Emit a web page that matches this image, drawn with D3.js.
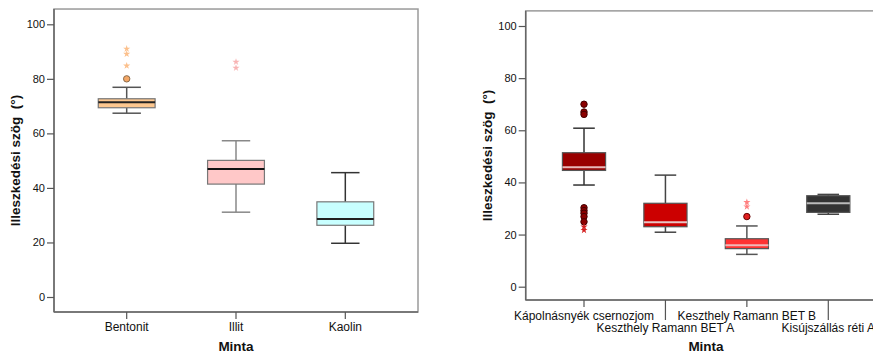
<!DOCTYPE html>
<html><head><meta charset="utf-8">
<script src="https://cdn.jsdelivr.net/npm/d3@7"></script>
<style>body{margin:0;background:#fff}svg{display:block}text{font-family:"Liberation Sans",Arial,sans-serif}</style>
</head><body><svg id="c" width="873" height="354"></svg>
<script>
// ---- Left panel data ----
const leftCategories = ["Bentonit", "Illit", "Kaolin"];
const leftWhiskerLow = [67.4, 31.1, 19.7];
const leftQ1 = [69.4, 41.4, 26.3];
const leftMedian = [71.4, 46.9, 28.6];
const leftQ3 = [72.7, 50.1, 34.9];
const leftWhiskerHigh = [76.9, 57.3, 45.6];
const leftOutliers = [[80.0], [], []];
const leftExtremes = [[91.0, 89.1, 84.8], [86.2, 84.0], []];
const leftFill = ["#fdc78f", "#ffc8c8", "#c8ffff"];
const leftYTicks = [0, 20, 40, 60, 80, 100];

// ---- Right panel data ----
const rightCategories = ["Kápolnásnyék csernozjom", "Keszthely Ramann BET A", "Keszthely Ramann BET B", "Kisújszállás réti A"];
const rightWhiskerLow = [39.0, 20.9, 12.4, 27.8];
const rightQ1 = [44.6, 23.0, 14.6, 28.5];
const rightMedian = [45.8, 24.7, 15.9, 32.0];
const rightQ3 = [51.4, 32.0, 18.4, 34.9];
const rightWhiskerHigh = [60.8, 42.8, 23.3, 35.4];
const rightOutliers = [[70.0, 67.0, 66.1, 30.3, 29.2, 28.2, 26.9, 24.9], [], [26.9], []];
const rightExtremes = [[23.0, 21.7], [], [32.4, 30.7], []];
const rightFill = ["#990000", "#cc0000", "#ff3333", "#333333"];
const rightYTicks = [0, 20, 40, 60, 80, 100];

const svg = d3.select("#c");

function panel(cfg) {
  const g = svg.append("g");
  const y = d3.scaleLinear().domain([0, 100]).range([cfg.y0, cfg.y100]);
  const x = d3.scalePoint().domain(cfg.cats).range([cfg.left, cfg.right]).padding(cfg.pad);
  const step = x.step();
  const bw = step * cfg.boxFrac;
  const top = y(cfg.ymax), bot = y(cfg.ymin);

  // frame
  g.append("rect").attr("x", cfg.left).attr("y", top).attr("width", cfg.right - cfg.left).attr("height", bot - top)
    .attr("fill", "none").attr("stroke", "#9a9a9a").attr("stroke-width", 1.5);
  g.append("line").attr("x1", cfg.left).attr("x2", cfg.left).attr("y1", top).attr("y2", bot).attr("stroke", "#666").attr("stroke-width", 1.5);
  g.append("line").attr("x1", cfg.left).attr("x2", cfg.right).attr("y1", bot).attr("y2", bot).attr("stroke", "#666").attr("stroke-width", 1.5);

  // y axis
  const ya = d3.axisLeft(y).tickValues(cfg.yticks).tickSize(7).tickPadding(2).tickFormat(d3.format("d"));
  const yg = g.append("g").attr("transform", `translate(${cfg.left},0)`).call(ya);
  yg.select(".domain").remove();
  yg.selectAll(".tick line").attr("stroke", "#555").attr("stroke-width", 1.2);
  yg.selectAll(".tick text").attr("font-size", 11).attr("fill", "#111").attr("font-family", "Liberation Sans, Arial, sans-serif");

  // x axis
  const xa = d3.axisBottom(x).tickSize(0).tickFormat("");
  const xg = g.append("g").attr("transform", `translate(0,${bot})`).call(xa);
  xg.select(".domain").remove();
  cfg.cats.forEach((c, i) => {
    const long = cfg.stagger && i % 2 === 1;
    g.append("line").attr("x1", x(c)).attr("x2", x(c)).attr("y1", bot).attr("y2", bot + (long ? 20 : 7))
      .attr("stroke", "#555").attr("stroke-width", 1.2);
    const ty = cfg.stagger ? (i % 2 === 0 ? cfg.labelY1 : cfg.labelY2) : cfg.labelY1;
    g.append("text").attr("x", x(c)).attr("y", ty).attr("text-anchor", "middle").attr("font-size", 12).attr("fill", "#111").text(c);
  });

  // titles
  g.append("text").attr("x", cfg.xTitleX).attr("y", cfg.xTitleY).attr("text-anchor", "middle")
    .attr("font-size", 13.5).attr("font-weight", "bold").attr("fill", "#111").text("Minta");
  g.append("text").attr("transform", `translate(${cfg.yTitleX},${(top + bot) / 2}) rotate(-90)`).attr("text-anchor", "middle")
    .attr("font-size", 13.5).attr("font-weight", "bold").attr("fill", "#111").attr("xml:space", "preserve")
    .style("white-space", "pre").text("Illeszkedési szög  (°)");

  // boxes
  cfg.cats.forEach((c, i) => {
    const cx = x(c);
    const wc = cfg.whiskerColor[i];
    g.append("line").attr("x1", cx).attr("x2", cx).attr("y1", y(cfg.wh[i])).attr("y2", y(cfg.q3[i])).attr("stroke", wc).attr("stroke-width", 1.5);
    g.append("line").attr("x1", cx).attr("x2", cx).attr("y1", y(cfg.q1[i])).attr("y2", y(cfg.wl[i])).attr("stroke", wc).attr("stroke-width", 1.5);
    [cfg.wh[i], cfg.wl[i]].forEach(v => {
      g.append("line").attr("x1", cx - bw / 4).attr("x2", cx + bw / 4).attr("y1", y(v)).attr("y2", y(v)).attr("stroke", wc).attr("stroke-width", 1.5);
    });
    g.append("rect").attr("x", cx - bw / 2).attr("y", y(cfg.q3[i])).attr("width", bw).attr("height", y(cfg.q1[i]) - y(cfg.q3[i]))
      .attr("fill", cfg.fill[i]).attr("stroke", cfg.boxStroke).attr("stroke-width", 1.2);
    g.append("line").attr("x1", cx - bw / 2).attr("x2", cx + bw / 2).attr("y1", y(cfg.med[i])).attr("y2", y(cfg.med[i]))
      .attr("stroke", cfg.medColor[i]).attr("stroke-width", 2);
    cfg.out[i].forEach(v => {
      g.append("circle").attr("cx", cx).attr("cy", y(v)).attr("r", 3.2).attr("fill", cfg.outFill[i]).attr("stroke", cfg.outStroke[i]).attr("stroke-width", 1);
    });
    cfg.ext[i].forEach(v => {
      g.append("path").attr("d", d3.symbol(d3.symbolStar, 16)()).attr("transform", `translate(${cx},${y(v)})`).attr("fill", cfg.extColor[i]);
    });
  });
}

panel({
  cats: leftCategories, wl: leftWhiskerLow, q1: leftQ1, med: leftMedian, q3: leftQ3, wh: leftWhiskerHigh,
  out: leftOutliers, ext: leftExtremes, fill: leftFill, yticks: leftYTicks,
  left: 54, right: 418, y0: 297, y100: 24.3, ymin: -5.5, ymax: 105.6, pad: 0.665, boxFrac: 0.52,
  stagger: false, labelY1: 331, xTitleX: 236, xTitleY: 351, yTitleX: 20,
  boxStroke: "#777", whiskerColor: ["#555", "#888", "#333"], medColor: ["#222", "#111", "#222"],
  outFill: ["#f4a766", "", ""], outStroke: ["#8a6a4a", "", ""], extColor: ["#fcc08c", "#f8b4b4", "#ccc"]
});

panel({
  cats: rightCategories, wl: rightWhiskerLow, q1: rightQ1, med: rightMedian, q3: rightQ3, wh: rightWhiskerHigh,
  out: rightOutliers, ext: rightExtremes, fill: rightFill, yticks: rightYTicks,
  left: 525.7, right: 886.6, y0: 286.7, y100: 26, ymin: -5.1, ymax: 105.8, pad: 0.716, boxFrac: 0.53,
  stagger: true, labelY1: 320, labelY2: 332, xTitleX: 706, xTitleY: 351, yTitleX: 492,
  boxStroke: "#555", whiskerColor: ["#333", "#444", "#555", "#444"], medColor: ["#e8b8b8", "#e8c4c4", "#f0b8b8", "#bbbbbb"],
  outFill: ["#8b0000", "", "#e02020", ""], outStroke: ["#400", "", "#600", ""], extColor: ["#d42020", "", "#ff8080", ""]
});
</script></body></html>
